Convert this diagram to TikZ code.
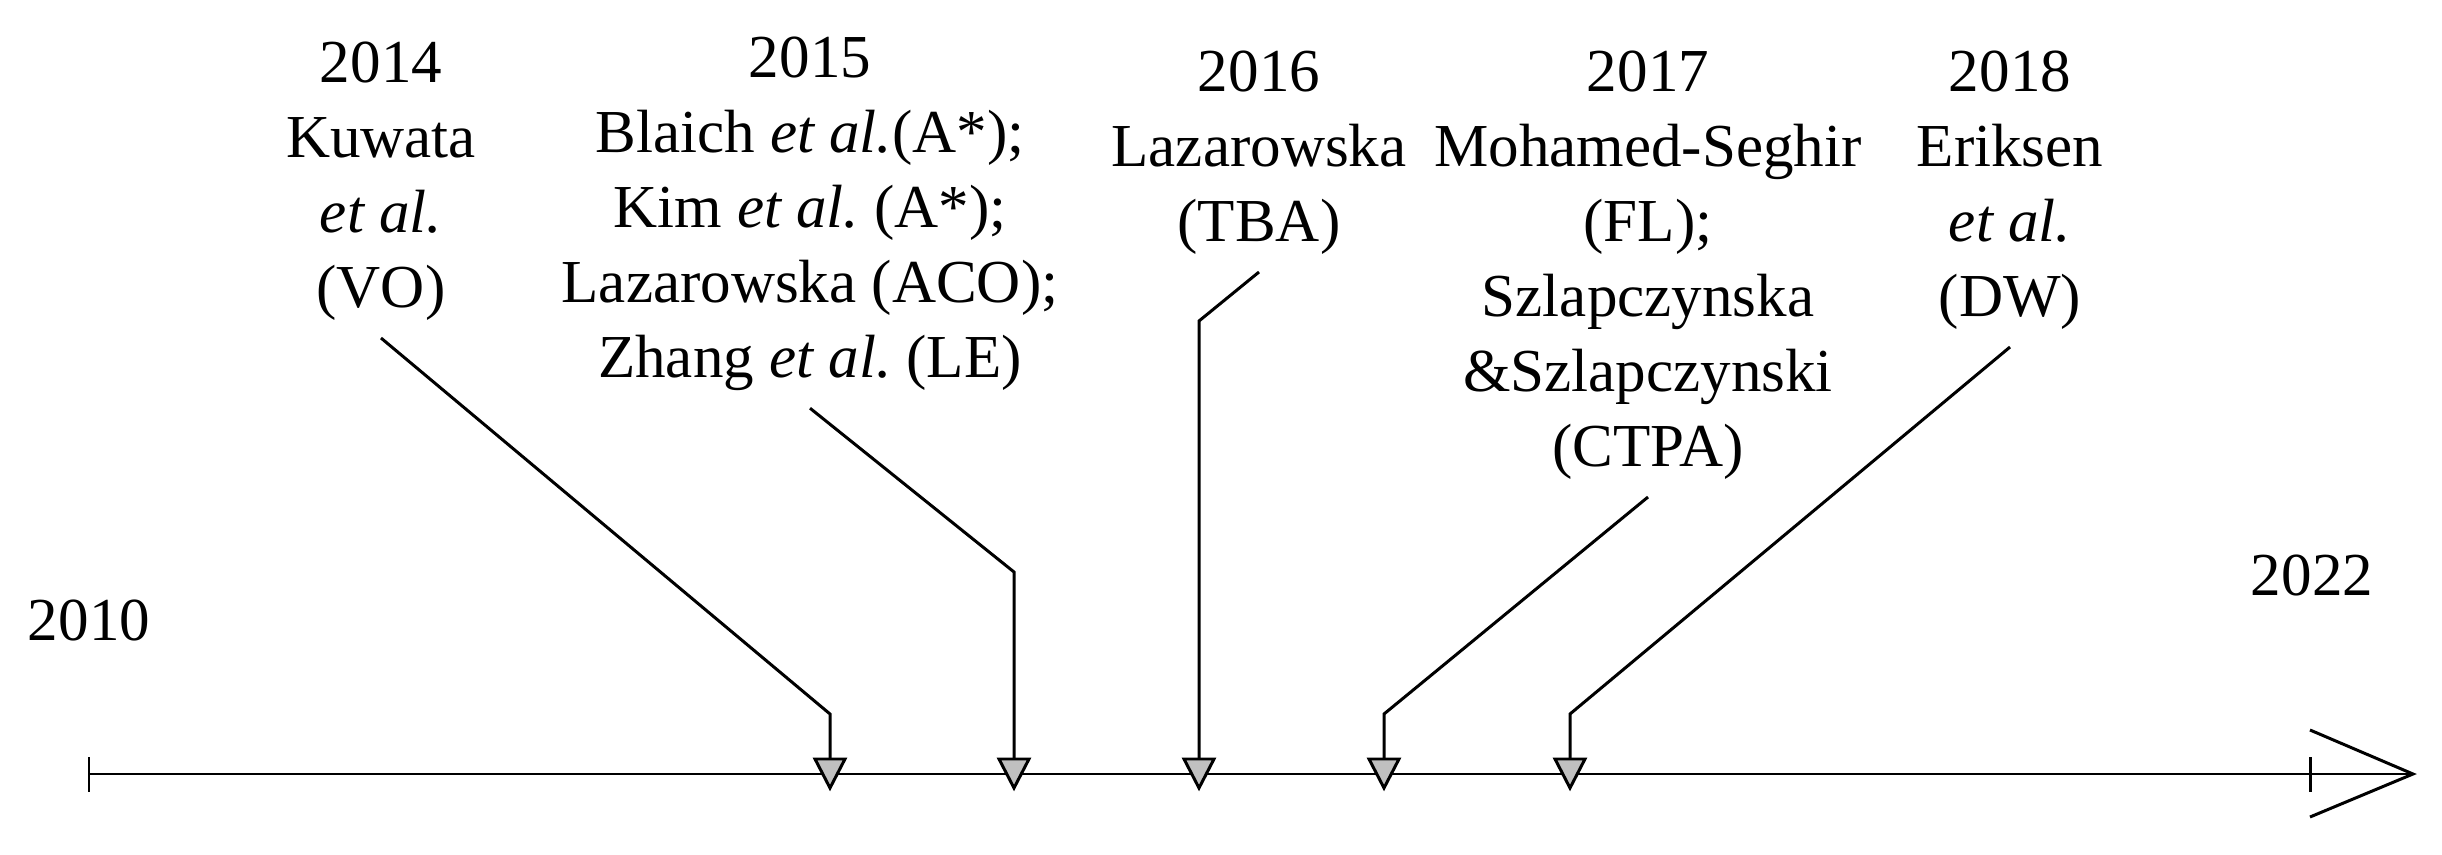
\documentclass[tikz,border=0pt]{standalone}
\usepackage{fontspec}
\setmainfont{Liberation Serif}
\definecolor{markgray}{HTML}{C0C0C0}
\newcommand{\etal}{\textit{et al.\nocorr}}
\frenchspacing
\begin{document}
\begin{tikzpicture}[x=0.01cm,y=-0.01cm,
  txt/.style={inner sep=0pt,font=\fontsize{17.36pt}{21.34pt}\selectfont\frenchspacing},
  lbl/.style={txt,align=center,anchor=base,outer sep=0.17cm},
  yr/.style={txt,anchor=base},
  ln/.style={line width=0.85pt},
  mk/.style={fill=markgray,draw=black,line width=0.85pt,line join=miter}]
\useasboundingbox (0,0) rectangle (2442,855);
% labels (anchored at the baseline of their last line)
\node[lbl] (l14) at (381,308) {2014\\Kuwata\\\etal\\(VO)};
\node[lbl] (l15) at (810,378) {2015\\Blaich \etal(A*);\\Kim \etal{} (A*);\\Lazarowska (ACO);\\Zhang \etal{} (LE)};
\node[lbl] (l16) at (1259,242) {2016\\Lazarowska\\(TBA)};
\node[lbl] (l17) at (1648,467) {2017\\Mohamed-Seghir\\(FL);\\Szlapczynska\\\&Szlapczynski\\(CTPA)};
\node[lbl] (l18) at (2010,317) {2018\\Eriksen\\\etal\\(DW)};
\node[yr] (y10) at (89,640) {2010};
\node[yr] (y22) at (2312,596) {2022};
% axis
\coordinate (a0) at (89,774);
\coordinate (a1) at (2413,774);
\draw[ln] (a0) -- (a1);
\draw[ln] (89,757) -- (89,792);
\draw[ln] (2310,757) -- (2310,792);
\draw[ln,line join=miter] (2310,730) -- (a1) -- (2310,817);
% marker tops and kinks
\coordinate (m14) at (830,759);
\coordinate (m15) at (1014,759);
\coordinate (m16) at (1199,759);
\coordinate (m17) at (1384,759);
\coordinate (m18) at (1570,759);
\coordinate (k14) at (830,714);
\coordinate (k15) at (1014,572);
\coordinate (k16) at (1199,321);
\coordinate (k17) at (1384,714);
\coordinate (k18) at (1570,714);
\draw[ln] (l14.south) -- (k14) -- (m14);
\draw[ln] (l15.south) -- (k15) -- (m15);
\draw[ln] (l16.south) -- (k16) -- (m16);
\draw[ln] (l17.south) -- (k17) -- (m17);
\draw[ln] (l18.south) -- (k18) -- (m18);
\foreach \m in {m14,m15,m16,m17,m18}
  \draw[mk] (\m) ++(-15,0) -- ++(30,0) -- ++(-15,29) -- cycle;
\end{tikzpicture}
\end{document}
